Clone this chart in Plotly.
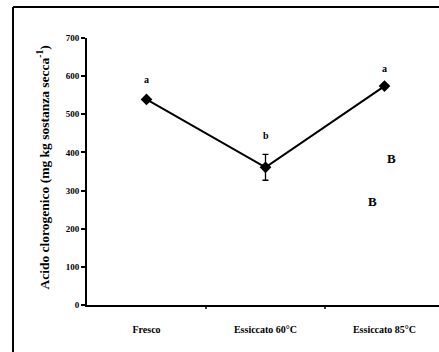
import plotly.graph_objects as go

categories = ["Fresco", "Essiccato 60°C", "Essiccato 85°C"]
values = [539, 361, 574]
errors = [0, 34, 0]
sig_letters = ["a", "b", "a"]
sig_letter_y = [590, 445, 620]
extra_letters = ["B", "B"]
extra_x = [2.06, 1.90]
extra_y = [385, 272]
y_ticks = [0, 100, 200, 300, 400, 500, 600, 700]

W, H = 439, 352
L, R, T, B = 87, 0, 38, 47
pw, ph = W - L - R, H - T - B

font = "Liberation Serif, Times New Roman, serif"

fig = go.Figure()
fig.add_trace(go.Scatter(
    x=[0, 1, 2], y=values, mode="lines+markers",
    line=dict(color="black", width=2),
    marker=dict(symbol="diamond", size=9, color="black"),
    error_y=dict(type="data", array=errors, visible=True, color="black", thickness=1.3, width=3),
    showlegend=False,
))

for i, (lt, ly) in enumerate(zip(sig_letters, sig_letter_y)):
    fig.add_annotation(x=i, y=ly, xref="x", yref="y", text=f"<b>{lt}</b>", showarrow=False,
                       font=dict(family=font, size=10, color="black"))
for lt, lx, ly in zip(extra_letters, extra_x, extra_y):
    fig.add_annotation(x=lx, y=ly, xref="x", yref="y", text=f"<b>{lt}</b>", showarrow=False,
                       font=dict(family=font, size=13, color="black"))

fig.add_annotation(x=(33 - L) / pw, y=(H - B - 168) / ph, xref="paper", yref="paper",
                   text="<b>Acido clorogenico (mg kg sostanza secca<sup>-1</sup>)</b>",
                   textangle=-90, showarrow=False,
                   font=dict(family=font, size=13.5, color="black"))

# outer frame (top and left edges visible)
fx0 = (13 - L) / pw
fx1 = (W - L) / pw
fy_top = (H - B - 7) / ph
fy_bot = (H - B - H) / ph
fig.add_shape(type="line", xref="paper", yref="paper", x0=fx0, x1=fx1, y0=fy_top, y1=fy_top,
              line=dict(color="black", width=2))
fig.add_shape(type="line", xref="paper", yref="paper", x0=fx0, x1=fx0, y0=fy_bot, y1=fy_top,
              line=dict(color="black", width=2))

fig.update_xaxes(
    range=[-0.5, -0.5 + pw / 119.0],
    tickmode="array", tickvals=[0, 1, 2], ticktext=[f"<b>{c}</b>" for c in categories],
    showgrid=False, zeroline=False, showline=True, linecolor="black", linewidth=2,
    ticks="", ticklabelstandoff=14,
    tickfont=dict(family=font, size=10, color="black"),
)
fig.update_yaxes(
    range=[0, 700], tickvals=y_ticks, ticktext=[f"<b>{v}</b>" for v in y_ticks],
    showgrid=False, zeroline=False, showline=True, linecolor="black", linewidth=2,
    ticks="outside", ticklen=4, tickwidth=1.5, tickcolor="black",
    tickfont=dict(family=font, size=9, color="black"),
)
# boundary ticks on x axis
for bx in [0.5, 1.5]:
    fig.add_shape(type="line", xref="x", yref="paper", x0=bx, x1=bx, y0=0, y1=-4 / ph,
                  line=dict(color="black", width=1.5))

fig.update_layout(
    width=W, height=H, margin=dict(l=L, r=R, t=T, b=B),
    paper_bgcolor="white", plot_bgcolor="white",
)
fig.write_html("out.html")
